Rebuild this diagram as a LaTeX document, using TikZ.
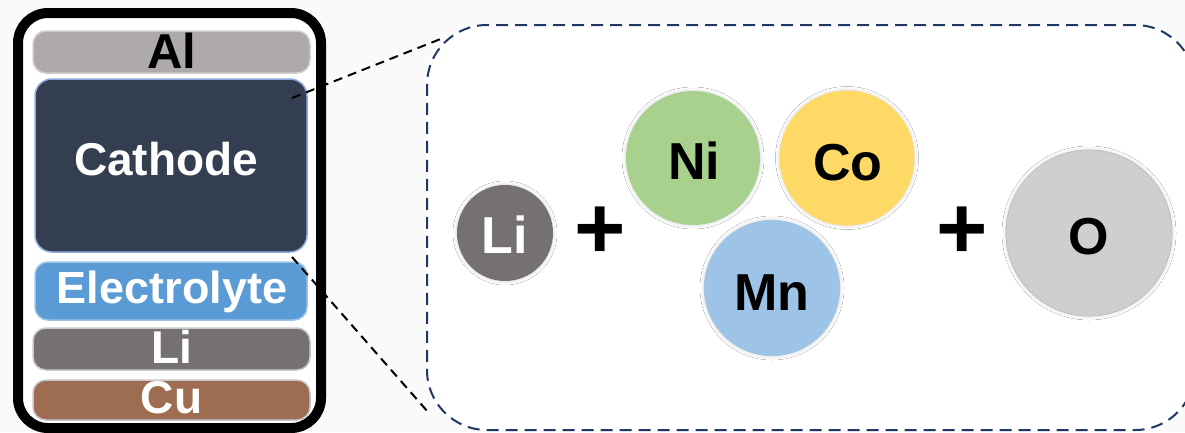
\documentclass[tikz,border=0pt]{standalone}
\usepackage{fontspec}
\setmainfont{Liberation Sans}
\usetikzlibrary{shadows.blur}
\definecolor{bg}{HTML}{FAFAFA}
\definecolor{alfill}{HTML}{AEAAAA}
\definecolor{alline}{HTML}{D0CECE}
\definecolor{cathfill}{HTML}{333F50}
\definecolor{cathline}{HTML}{8FAADC}
\definecolor{elfill}{HTML}{5B9BD5}
\definecolor{elline}{HTML}{9DC3E6}
\definecolor{lifill}{HTML}{767171}
\definecolor{liline}{HTML}{C9C9C9}
\definecolor{cufill}{HTML}{9E6D51}
\definecolor{culine}{HTML}{C9C9C9}
\definecolor{navy}{HTML}{1F3864}
\definecolor{nifill}{HTML}{A9D18E}
\definecolor{cofill}{HTML}{FFD966}
\definecolor{mnfill}{HTML}{9DC3E6}
\definecolor{ofill}{HTML}{D0CECE}
\definecolor{oline}{HTML}{C4C2C2}
\begin{document}
\begin{tikzpicture}[x=1pt,y=-1pt,
  bar/.style={rounded corners=13pt, line width=1.5pt, minimum width=277pt, inner sep=0pt},
  lbl/.style={font=\fontsize{46}{50}\selectfont\bfseries, text=white, anchor=base, inner sep=0pt},
  atom/.style={circle, inner sep=0pt, blur shadow={shadow xshift=0pt, shadow yshift=0pt, shadow blur radius=4pt, shadow opacity=18}},
  atxt/.style={font=\fontsize{52}{56}\selectfont\bfseries, anchor=base, inner sep=0pt},
  plussign/.style={font=\fontsize{88}{90}\selectfont\bfseries, inner sep=0pt},
  conn/.style={black, line width=2pt, dash pattern=on 9pt off 6pt},
  ]
\fill[bg] (0,0) rectangle (1185,432);
\useasboundingbox (0,0) rectangle (1185,432);

% cell stack
\node[draw, line width=10pt, rounded corners=30pt, minimum width=303pt, minimum height=415pt, inner sep=0pt, fill=white] (cell) at (169.5,220.5) {};
\node[bar, fill=alfill, draw=alline, minimum height=42pt] (al) at (171.5,52) {};
\node[lbl, text=black, font=\fontsize{49}{52}\selectfont\bfseries] (altxt) at (171.5,68) {Al};
\node[bar, fill=cathfill, draw=cathline, minimum width=272pt, minimum height=173pt, rounded corners=17pt] (cath) at (171,165.5) {};
\node[lbl] (cathtxt) at (166,175) {Cathode};
\node[bar, fill=elfill, draw=elline, minimum width=272pt, minimum height=58pt] (el) at (171,291) {};
\node[lbl, font=\fontsize{45}{50}\selectfont\bfseries] (eltxt) at (172,303) {Electrolyte};
\node[bar, fill=lifill, draw=liline, minimum height=42pt] (li) at (171.5,349) {};
\node[lbl] (litxt) at (171.5,363) {Li};
\node[bar, fill=cufill, draw=culine, minimum height=40pt] (cu) at (171.5,400) {};
\node[lbl] (cutxt) at (171.5,413) {Cu};

% zoom box
\node[draw=navy, fill=white, line width=2pt, dash pattern=on 12pt off 7pt, rounded corners=60pt, minimum width=768pt, minimum height=405pt, inner sep=0pt] (zoombox) at (811,227.5) {};

% connectors
\coordinate (c1) at (292,98);
\coordinate (c2) at (292,257);
\coordinate (z1) at (443,38);
\coordinate (z2) at (428,412);
\draw[conn] (c1) -- (z1);
\draw[conn] (c2) -- (z2);

% atoms
\node[atom, fill=lifill, minimum size=96pt] (lia) at (505,233) {};
\node[atxt, text=white] (liatxt) at (505,253) {Li};
\node[plussign] (p1) at (600,233) {+};
\node[atom, fill=nifill, minimum size=134pt] (ni) at (693,158) {};
\node[atxt] (nitxt) at (694,179) {Ni};
\node[atom, fill=cofill, minimum size=135pt] (co) at (847,158) {};
\node[atxt] (cotxt) at (848,180) {Co};
\node[atom, fill=mnfill, minimum size=136pt] (mn) at (772,288) {};
\node[atxt] (mntxt) at (772,310) {Mn};
\node[plussign] (p2) at (962,233) {+};
\node[atom, fill=ofill, draw=oline, line width=1pt, minimum size=166pt] (o) at (1089,233) {};
\node[atxt] (otxt) at (1089,254) {O};
\end{tikzpicture}
\end{document}
